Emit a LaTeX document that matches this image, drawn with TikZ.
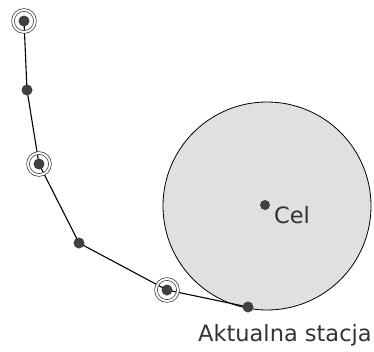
\documentclass[tikz,border=0pt]{standalone}
\usepackage{fontspec}
\setmainfont{DejaVu Sans}
\begin{document}
\begin{tikzpicture}[x=1pt,y=-1pt,
  dot/.style={circle,fill=black!75,inner sep=0pt,minimum size=11pt},
  ring/.style={circle,draw=black!80,line width=0.7pt,double=white,double distance=2pt,inner sep=0pt,minimum size=22pt},
  path/.style={draw=black,line width=1.1pt},
  lbl/.style={font=\fontsize{22.5}{26}\selectfont,text=black!80,inner sep=0pt}]
\useasboundingbox (0,0) rectangle (374,351);
% target zone
\node[circle,draw=black,line width=0.8pt,fill=black!12,minimum size=208pt,inner sep=0pt] (zone) at (267,206) {};
% waypoints
\coordinate (p1) at (24,21);
\coordinate (p2) at (27,90);
\coordinate (p3) at (39,164);
\coordinate (p4) at (79,243);
\coordinate (p5) at (167,290);
\coordinate (p6) at (248,307);
\coordinate (c) at (265,205);
\draw[path] (p1) -- (p2) -- (p3) -- (p4) -- (p5) -- (p6);
\foreach \p in {p1,p3,p5} \node[ring] (r\p) at (\p) {};
\foreach \p in {p1,p2,p3,p4,p5,p6} \node[dot] (d\p) at (\p) {};
\node[dot,minimum size=10pt] (dc) at (c) {};
\node[lbl,anchor=base west] (cel) at (274,223) {Cel};
\node[lbl,anchor=base west] (akt) at (198,341) {Aktualna stacja};
\end{tikzpicture}
\end{document}
